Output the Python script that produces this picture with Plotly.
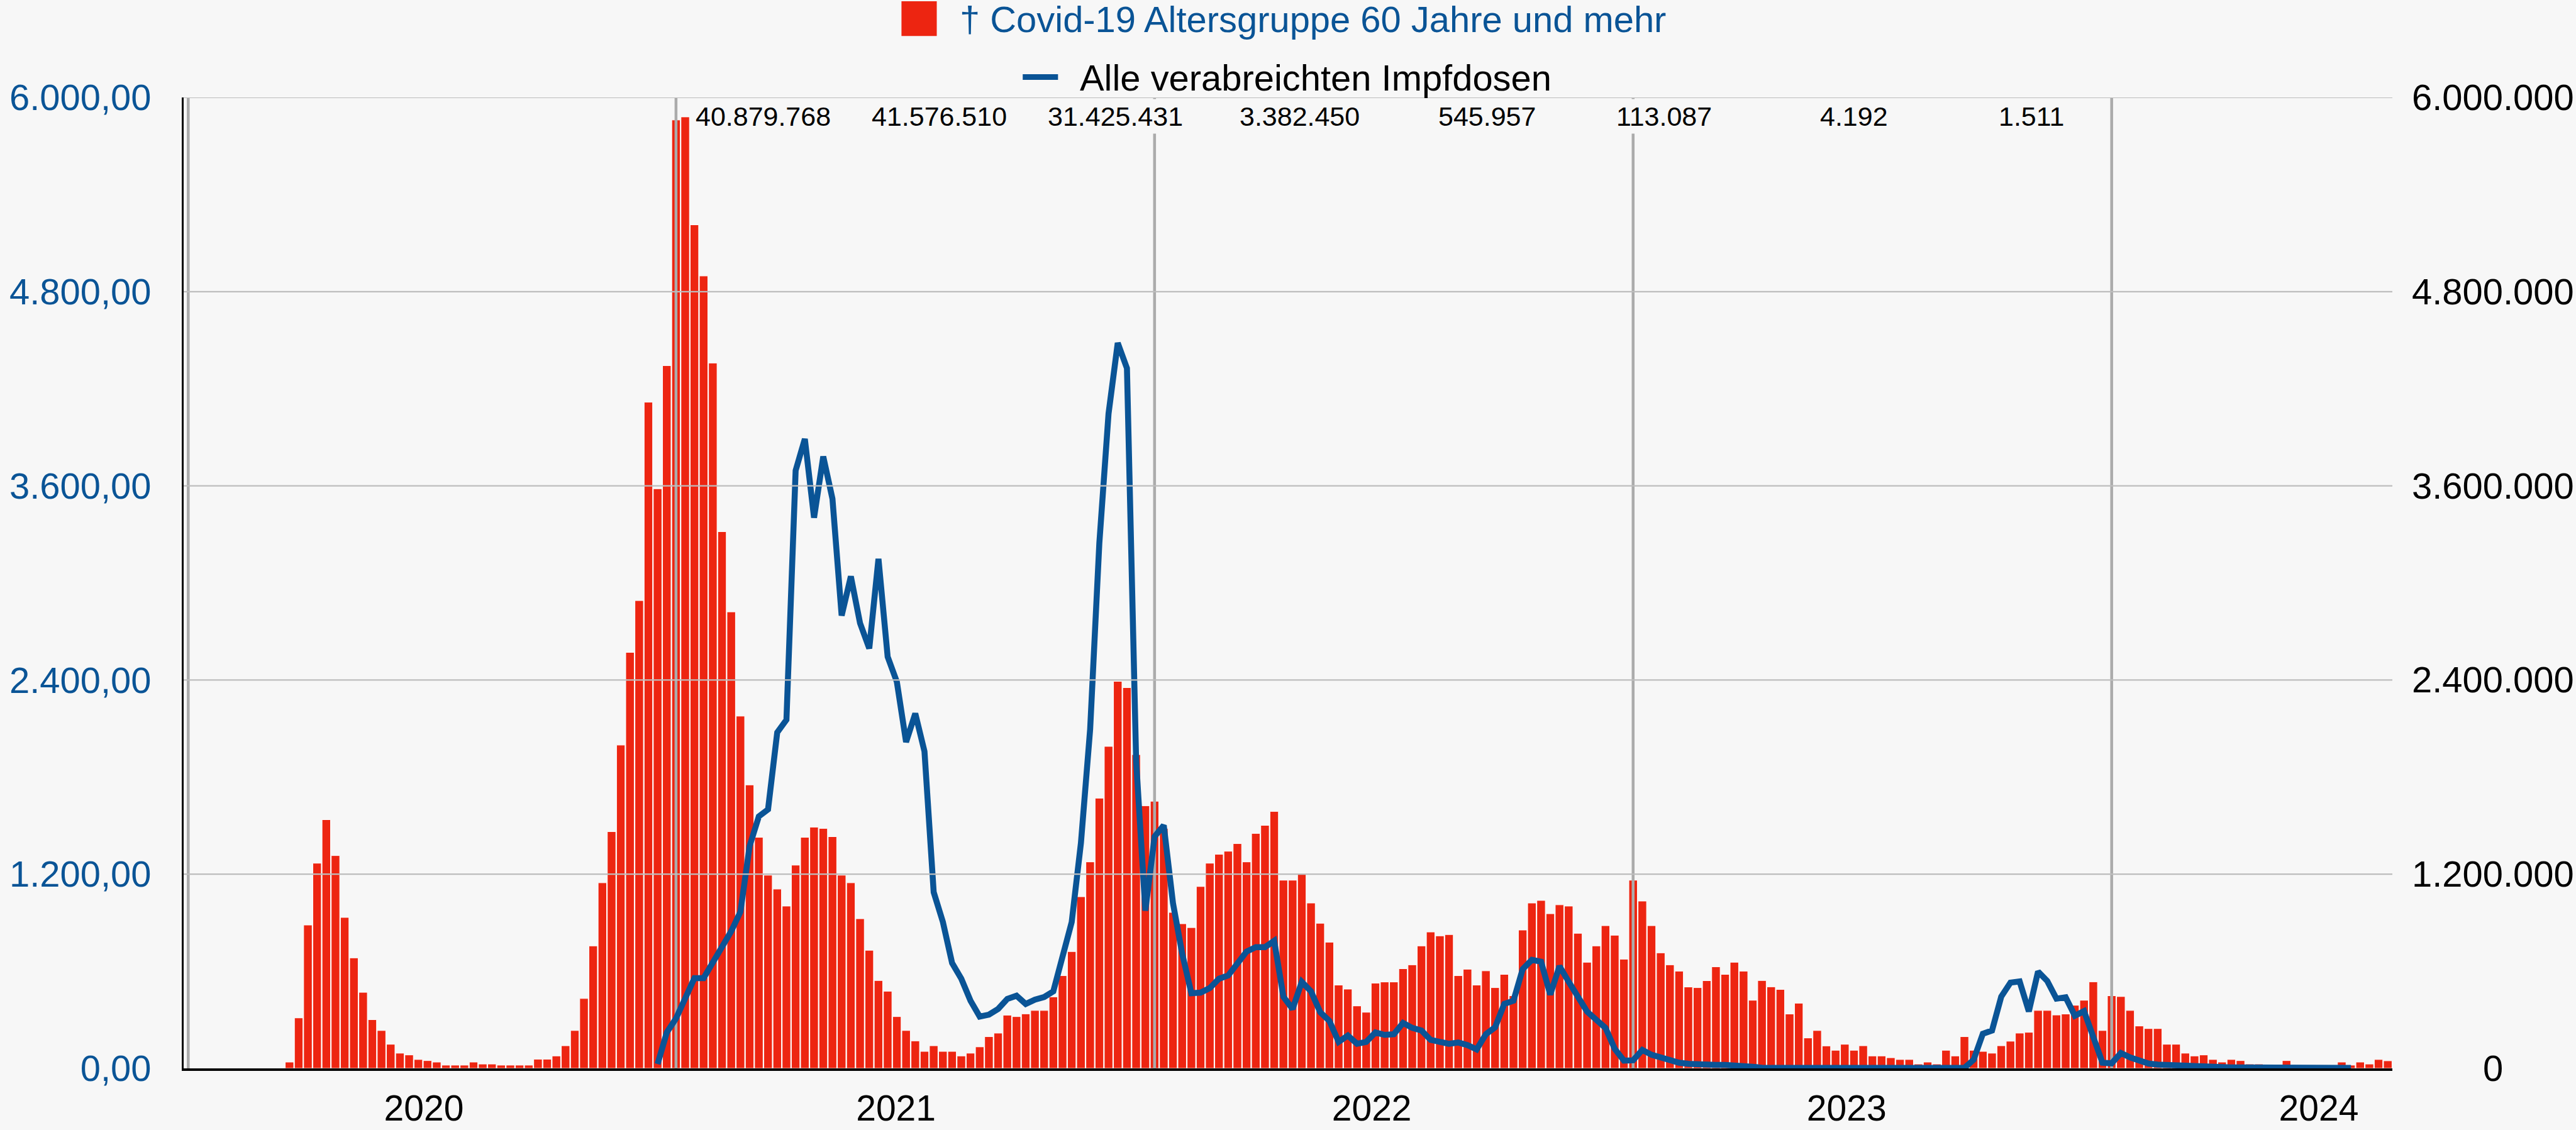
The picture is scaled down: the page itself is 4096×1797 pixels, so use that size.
import plotly.graph_objects as go

# ---------------- data ----------------
# weekly deaths, age group 60+ (week index 0 = first week of 2020)
deaths = [
    0, 0, 0, 0, 0, 0, 0, 0, 0, 0, 0,
    39, 312, 886, 1268, 1537, 1315, 933, 683, 470, 301,
    234, 149, 94, 83, 55, 48, 39, 20, 20, 20,
    39, 27, 27, 20, 20, 20, 20, 57, 57, 77,
    140, 234, 432, 757, 1147, 1463, 1998, 2571, 2891, 4117,
    3582, 4343, 5861, 5880, 5213, 4897, 4359, 3317, 2821, 2177,
    1752, 1428, 1194, 1108, 1003, 1256, 1428, 1491, 1483, 1432,
    1194, 1147, 925, 730, 543, 477, 320, 234, 170, 105,
    140, 105, 105, 77, 94, 133, 196, 218, 329, 320,
    337, 358, 358, 442, 573, 722, 1061, 1276, 1670, 1990,
    2392, 2353, 1939, 1623, 1651, 1483, 964, 894, 870, 1124,
    1268, 1323, 1342, 1389, 1276, 1452, 1502, 1588, 1163, 1163,
    1206, 1022, 897, 780, 515, 490, 386, 347, 527, 534,
    534, 616, 640, 757, 843, 819, 827, 573, 613, 515,
    603, 499, 581, 449, 855, 1022, 1038, 956, 1011, 1003,
    835, 656, 757, 882, 823, 675, 1163, 1034, 882, 714,
    640, 601, 503, 499, 542, 628, 581, 656, 601, 421,
    543, 504, 488, 336, 403, 188, 234, 139, 112, 149,
    112, 140, 77, 77, 66, 55, 55, 27, 39, 27,
    112, 77, 196, 112, 105, 94, 140, 168, 218, 223,
    358, 358, 330, 336, 390, 421, 535, 234, 449, 444,
    358, 262, 246, 246, 149, 149, 94, 77, 83, 55,
    39, 55, 48, 27, 27, 20, 0, 48, 0, 0,
    0, 20, 0, 39, 20, 39, 27, 55, 47,
]

# weekly administered vaccine doses, starting at week index 51
doses_first_week = 51
doses = [
    27000, 222000, 308000, 437000, 558000, 558000, 659000, 761000, 847000, 968000,
    1374000, 1557000, 1600000, 2076000, 2154000, 3695000, 3890000, 3403000, 3781000, 3520000,
    2798000, 3040000, 2751000, 2595000, 3149000, 2544000, 2388000, 2017000, 2193000, 1959000,
    1089000, 905000, 651000, 554000, 418000, 320000, 332000, 367000, 429000, 449000,
    398000, 425000, 441000, 476000, 698000, 905000, 1393000, 2095000, 3246000, 4046000,
    4483000, 4327000, 1900000, 975000, 1432000, 1502000, 1022000, 710000, 464000, 468000,
    496000, 554000, 574000, 652000, 722000, 749000, 749000, 788000, 443000, 367000,
    535000, 476000, 347000, 293000, 164000, 203000, 152000, 164000, 222000, 207000,
    211000, 281000, 250000, 234000, 176000, 164000, 152000, 160000, 144000, 117000,
    211000, 254000, 398000, 418000, 613000, 671000, 659000, 456000, 632000, 535000,
    449000, 351000, 300000, 250000, 121000, 48000, 50000, 114000, 84000, 66000,
    50000, 35000, 28000, 23000, 22000, 21000, 21000, 20000, 20000, 10000,
    4000, 3000, 3000, 3000, 3000, 3000, 3000, 3000, 3000, 3000,
    3000, 3000, 3000, 3000, 3000, 3000, 3000, 3000, 3000, 3000,
    3000, 3000, 3000, 53000, 214000, 234000, 443000, 530000, 537000, 352000,
    598000, 540000, 431000, 439000, 325000, 354000, 190000, 35000, 31000, 95000,
    68000, 49000, 30000, 23000, 20000, 16000, 12000, 10000, 9000, 8000,
    7000, 6000, 6000, 5000, 5000, 5000, 4000, 4000, 4000, 3000,
    3000, 3000, 3000, 3000, 3000,
]

year_boundary_weeks = [0, 53, 105, 157, 209]
year_labels = ["2020", "2021", "2022", "2023", "2024"]
year_label_weeks = [25.6, 76.9, 128.6, 180.2, 231.5]

dose_totals = ["40.879.768", "41.576.510", "31.425.431", "3.382.450",
               "545.957", "113.087", "4.192", "1.511"]

left_ticks = [0, 1200, 2400, 3600, 4800, 6000]
left_tick_text = ["0,00", "1.200,00", "2.400,00", "3.600,00", "4.800,00", "6.000,00"]
right_ticks = [0, 1200000, 2400000, 3600000, 4800000, 6000000]
right_tick_text = ["0", "1.200.000", "2.400.000", "3.600.000", "4.800.000", "6.000.000"]

legend_bar_text = "† Covid-19 Altersgruppe 60 Jahre und mehr"
legend_line_text = "Alle verabreichten Impfdosen"

# ---------------- layout geometry ----------------
S = 0.905
W, H = 4096, 1797
L, R, T, B = 323, 4203, 171, 1877      # plot area in reference pixels
FONT = "Liberation Sans, Arial, Helvetica, sans-serif"
RED = "#ed2511"
BLUE = "#0a5496"
BG = "#f7f7f7"
GRID = "#bdbdbd"
VGREY = "#ababab"


def px(xr):
    return (xr - L) / (R - L)


def py(yr):
    return (B - yr) / (B - T)


fig = go.Figure()

fig.add_trace(go.Bar(
    x=list(range(len(deaths))), y=deaths,
    marker=dict(color=RED, line=dict(color="white", width=1)),
    showlegend=False, hoverinfo="skip",
))

for wk in year_boundary_weeks:
    fig.add_trace(go.Scatter(
        x=[wk, wk], y=[0, left_ticks[-1]], mode="lines",
        line=dict(color=VGREY, width=5 * S), showlegend=False, hoverinfo="skip",
    ))

fig.add_trace(go.Scatter(
    x=list(range(doses_first_week, doses_first_week + len(doses))), y=doses,
    yaxis="y2", mode="lines", line=dict(color=BLUE, width=10.5 * S),
    showlegend=False, hoverinfo="skip",
))

shapes = []
for v in left_ticks[1:]:
    shapes.append(dict(type="line", xref="paper", x0=0, x1=1, yref="y", y0=v, y1=v,
                       line=dict(color=GRID, width=2.2), layer="above"))

# manual legend
shapes.append(dict(type="rect", xref="paper", yref="paper",
                   x0=px(1584), x1=px(1646), y0=py(63), y1=py(2),
                   fillcolor=RED, line=dict(width=0), layer="above"))
shapes.append(dict(type="line", xref="paper", yref="paper",
                   x0=px(1797), x1=px(1859), y0=py(135), y1=py(135),
                   line=dict(color=BLUE, width=10 * S), layer="above"))

annotations = [
    dict(text=legend_bar_text, xref="paper", yref="paper", x=px(1684), y=py(34),
         xanchor="left", yanchor="middle", showarrow=False,
         font=dict(family=FONT, size=64 * S, color=BLUE)),
    dict(text=legend_line_text, xref="paper", yref="paper", x=px(1895), y=py(137),
         xanchor="left", yanchor="middle", showarrow=False,
         font=dict(family=FONT, size=64 * S, color="black")),
]

first_right_edge = 70.08
label_step = 19.15
for i, txt in enumerate(dose_totals):
    annotations.append(dict(
        text=txt, xref="x", yref="paper", x=first_right_edge + label_step * i, y=py(204),
        xanchor="right", yanchor="middle", showarrow=False, bgcolor=BG, borderpad=3,
        font=dict(family=FONT, size=47.5 * S, color="black")))

for v, txt in zip(right_ticks, right_tick_text):
    annotations.append(dict(
        text=txt, xref="paper", yref="y2", x=px(4380), y=v,
        xanchor="center", yanchor="middle", showarrow=False,
        font=dict(family=FONT, size=64 * S, color="black")))

fig.update_layout(
    width=W, height=H,
    margin=dict(l=L * S, r=W - R * S, t=T * S, b=H - B * S, pad=0, autoexpand=False),
    paper_bgcolor=BG, plot_bgcolor=BG,
    bargap=0.08,
    showlegend=False,
    font=dict(family=FONT),
    xaxis=dict(
        range=[-0.5, len(deaths) - 0.5], showgrid=False, zeroline=False,
        tickmode="array", tickvals=year_label_weeks, ticktext=year_labels,
        tickfont=dict(family=FONT, size=63 * S, color="black"),
        ticks="", showline=True, linecolor="black", linewidth=3.5,
        ticklabelstandoff=11, automargin=False,
    ),
    yaxis=dict(
        range=[0, left_ticks[-1]], tickmode="array", tickvals=left_ticks,
        ticktext=left_tick_text, showgrid=False, zeroline=False,
        tickfont=dict(family=FONT, size=64 * S, color=BLUE),
        ticks="", showline=True, linecolor="black", linewidth=3,
        ticklabelstandoff=37, automargin=False,
    ),
    yaxis2=dict(
        range=[0, right_ticks[-1]], overlaying="y", side="right",
        showgrid=False, zeroline=False, showticklabels=False, showline=False,
        automargin=False,
    ),
    shapes=shapes,
    annotations=annotations,
)

fig.write_html("out.html", post_script="document.body.style.margin='0';",
               config={"displayModeBar": False})
